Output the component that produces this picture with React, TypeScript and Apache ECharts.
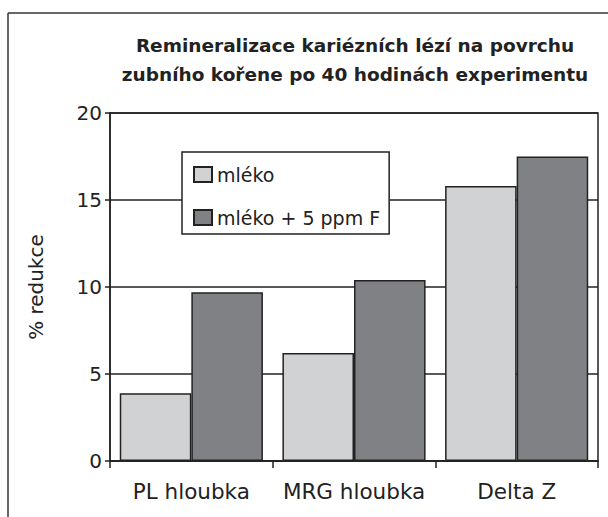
import React, { useEffect, useRef } from "react";
import * as echarts from "echarts";

const categories = ["PL hloubka", "MRG hloubka", "Delta Z"];
const seriesNames = ["mléko", "mléko + 5 ppm F"];
const milk = [3.9, 6.2, 15.8];
const milkF = [9.7, 10.4, 17.5];
const titleLines = [
  "Remineralizace kariézních lézí na povrchu",
  "zubního kořene po 40 hodinách experimentu",
];
const yAxisName = "% redukce";

const FONT = "DejaVu Sans";
const INK = "#222";

export default function App() {
  const ref = useRef<HTMLDivElement>(null);
  useEffect(() => {
    if (!ref.current) return;
    const chart = echarts.init(ref.current, null, { renderer: "svg" });
    chart.setOption({
      animation: false,
      backgroundColor: "#fff",
      textStyle: { fontFamily: FONT },
      graphic: [
        { type: "line", shape: { x1: 8, y1: 13, x2: 608, y2: 13 }, style: { stroke: "#333", lineWidth: 1.5 } },
        { type: "line", shape: { x1: 8, y1: 13, x2: 8, y2: 517 }, style: { stroke: "#333", lineWidth: 1.5 } },
        {
          type: "text", x: 355, y: 45,
          style: { text: titleLines[0], fontFamily: FONT, fontWeight: "bold", fontSize: 18.5, fill: INK, textAlign: "center", textVerticalAlign: "middle" },
        },
        {
          type: "text", x: 355, y: 74,
          style: { text: titleLines[1], fontFamily: FONT, fontWeight: "bold", fontSize: 18.5, fill: INK, textAlign: "center", textVerticalAlign: "middle" },
        },
      ],
      grid: {
        left: 110, right: 10, top: 113, bottom: 56,
        show: true, borderColor: INK, borderWidth: 1.5, backgroundColor: "transparent",
      },
      legend: {
        orient: "vertical",
        left: 182, top: 152,
        padding: [13, 9, 7, 11],
        itemGap: 24,
        itemWidth: 18, itemHeight: 15,
        icon: "rect",
        backgroundColor: "#fff",
        borderColor: INK, borderWidth: 1.5,
        textStyle: { fontFamily: FONT, fontSize: 19, color: INK },
        data: seriesNames,
      },
      xAxis: {
        type: "category",
        data: categories,
        axisLine: { lineStyle: { color: INK, width: 1.5 } },
        axisTick: { show: true, interval: 0, length: 7, lineStyle: { color: INK, width: 1.5 } },
        axisLabel: { interval: 0, fontFamily: FONT, fontSize: 21.5, color: INK, margin: 19 },
      },
      yAxis: {
        type: "value",
        min: 0, max: 20, interval: 5,
        name: yAxisName,
        nameLocation: "middle",
        nameRotate: 90,
        nameGap: 64,
        nameTextStyle: { fontFamily: FONT, fontSize: 20, color: INK },
        axisLine: { show: true, lineStyle: { color: INK, width: 1.5 } },
        axisTick: { show: true, length: 5, lineStyle: { color: INK, width: 1.5 } },
        axisLabel: { fontFamily: FONT, fontSize: 20, color: INK, margin: 8 },
        splitLine: { show: true, lineStyle: { color: INK, width: 1.5 } },
      },
      series: [
        {
          name: seriesNames[0], type: "bar", data: milk,
          barGap: "0%", barCategoryGap: "12%",
          itemStyle: { color: "#d1d2d4", borderColor: INK, borderWidth: 1.5 },
        },
        {
          name: seriesNames[1], type: "bar", data: milkF,
          barGap: "0%", barCategoryGap: "12%",
          itemStyle: { color: "#808184", borderColor: INK, borderWidth: 1.5 },
        },
      ],
    });
    return () => chart.dispose();
  }, []);
  return <div ref={ref} style={{ position: "absolute", left: 0, top: 0, width: 608, height: 517 }} />;
}
